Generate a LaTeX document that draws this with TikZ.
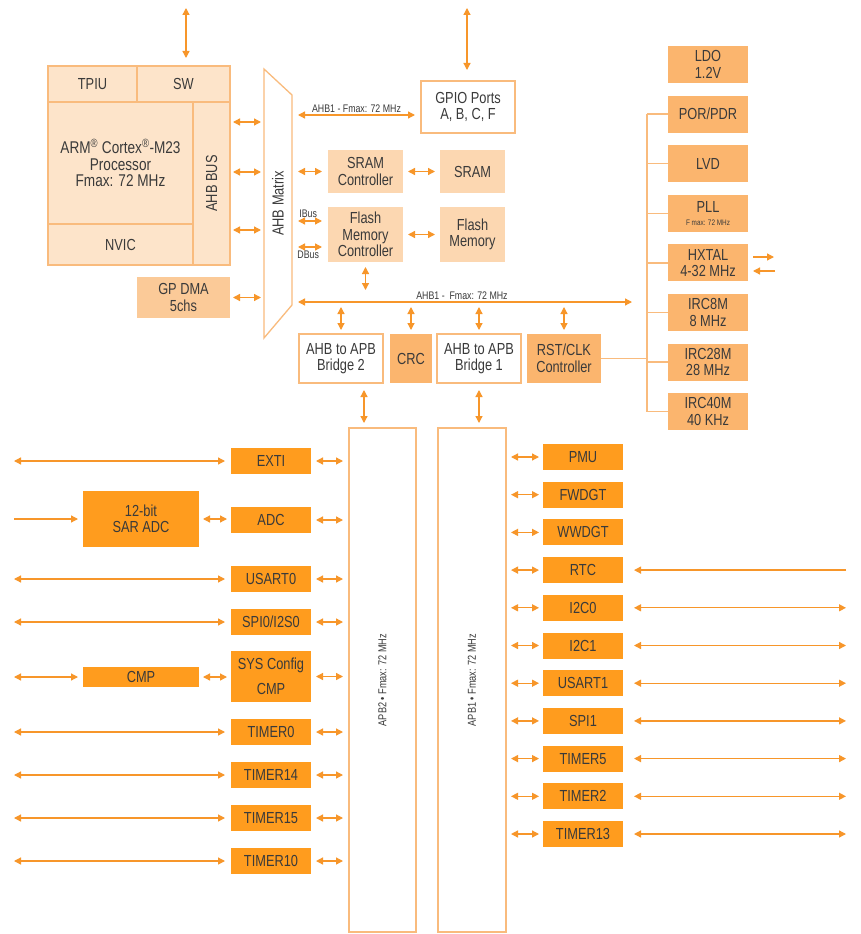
\documentclass[tikz,border=0pt]{standalone}
\usepackage{fontspec}
\setmainfont{Liberation Sans}[FakeStretch=0.8]
\usetikzlibrary{positioning,arrows.meta,calc}

\definecolor{arrowc}{HTML}{F7962A}
\definecolor{edgec}{HTML}{F9BB7D}
\definecolor{cpufill}{HTML}{FDE4CA}
\definecolor{memfill}{HTML}{FCD7B1}
\definecolor{dmafill}{HTML}{FBCA98}
\definecolor{clkfill}{HTML}{FBB56E}
\definecolor{perfill}{HTML}{FF9C1E}
\definecolor{textc}{HTML}{3A3A3A}

\begin{document}
\begin{tikzpicture}[x=1pt, y=-1pt,
    font=\fontsize{16}{16.5}\selectfont,
    box/.style={inner sep=0pt, outer sep=0pt, align=center, text=textc},
    cpu/.style={box, draw=edgec, fill=cpufill, line width=1.3pt},
    wbox/.style={box, draw=edgec, fill=white, line width=1.3pt},
    mem/.style={box, fill=memfill},
    clk/.style={box, fill=clkfill, minimum width=80pt, minimum height=37pt},
    periph/.style={box, fill=perfill, minimum width=80pt, minimum height=26pt},
    small/.style={font=\fontsize{11}{11.5}\selectfont, text=textc, inner sep=1pt},
    link/.style={draw=arrowc, line width=1.3pt},
    biarrow/.style={link, {Triangle[width=7pt,length=7pt]}-{Triangle[width=7pt,length=7pt]}},
    toarrow/.style={link, -{Triangle[width=7pt,length=7pt]}},
    tree/.style={draw=edgec, line width=1.3pt},
    gapped/.style={shorten <=#1, shorten >=#1}
]
\fill[white] (0,0) rectangle (860,934);
\useasboundingbox (0,0) rectangle (860,934);

% core block
\node[cpu, minimum width=89pt, minimum height=36pt] (tpiu) at (92.5,84) {TPIU};
\node[cpu, minimum width=93pt, minimum height=36pt] (sw) at (183.5,84) {SW};
\node[cpu, minimum width=145pt, minimum height=122pt, font=\fontsize{17}{16.5}\selectfont] (arm) at (120.5,163) {ARM\textsuperscript{®} Cortex\textsuperscript{®}-M23\\Processor\\Fmax: 72 MHz};
\node[cpu, minimum width=145pt, minimum height=41pt] (nvic) at (120.5,244.5) {NVIC};
\node[cpu, minimum width=37pt, minimum height=163pt] (ahbbus) at (211.5,183.5) {};
\node[box, rotate=90] (ahbbustxt) at (ahbbus) {AHB BUS};
\node[box, fill=dmafill, minimum width=93pt, minimum height=41pt] (gpdma) at (183.5,297.5) {GP DMA\\5chs};

% AHB matrix
\node[box, minimum width=28pt, minimum height=269pt] (ahbm) at (278,203.5) {};
\draw[draw=edgec, fill=white, line width=1.3pt] (ahbm.north west) -- ([yshift=-26pt]ahbm.north east) -- ([yshift=33pt]ahbm.south east) -- (ahbm.south west) -- cycle;
\node[box, rotate=90] (ahbmtxt) at (ahbm) {AHB Matrix};

% AHB side
\node[wbox, minimum width=94pt, minimum height=52pt] (gpio) at (468,107) {GPIO Ports\\A, B, C, F};
\node[mem, minimum width=75pt, minimum height=43pt] (sramc) at (365.5,171.5) {SRAM\\Controller};
\node[mem, minimum width=65pt, minimum height=43pt, right=37pt of sramc] (sram) {SRAM};
\node[mem, minimum width=75pt, minimum height=55pt] (flashc) at (365.5,234.5) {Flash\\Memory\\Controller};
\node[mem, minimum width=65pt, minimum height=55pt, right=37pt of flashc] (flash) {Flash\\Memory};
\node[wbox, minimum width=84pt, minimum height=49pt] (bridge2) at (341,358.5) {AHB to APB\\Bridge 2};
\node[box, fill=clkfill, minimum width=42pt, minimum height=49pt] (crc) at (411,358.5) {CRC};
\node[wbox, minimum width=84pt, minimum height=49pt] (bridge1) at (479,358.5) {AHB to APB\\Bridge 1};
\node[box, fill=clkfill, minimum width=74pt, minimum height=49pt] (rst) at (564,358.5) {RST/CLK\\Controller};

% clocks and power
\node[clk] (ldo) at (708,64.5) {LDO\\1.2V};
\node[clk, below=12.6pt of ldo] (por) {POR/PDR};
\node[clk, below=12.6pt of por] (lvd) {LVD};
\node[clk, below=12.6pt of lvd] (pll) {PLL\\[-3pt]{\fontsize{8}{8}\selectfont F max: 72 MHz}};
\node[clk, below=12.6pt of pll] (hxtal) {HXTAL\\4-32 MHz};
\node[clk, below=12.6pt of hxtal] (irc8) {IRC8M\\8 MHz};
\node[clk, below=12.6pt of irc8] (irc28) {IRC28M\\28 MHz};
\node[clk, below=12.6pt of irc28] (irc40) {IRC40M\\40 KHz};

% APB buses
\node[wbox, minimum width=67pt, minimum height=504pt] (apb2) at (382.5,680) {};
\node[box, rotate=90, font=\fontsize{11.5}{12}\selectfont] (apb2txt) at (apb2) {APB2 • Fmax: 72 MHz};
\node[wbox, minimum width=68pt, minimum height=504pt] (apb1) at (472,680) {};
\node[box, rotate=90, font=\fontsize{11.5}{12}\selectfont] (apb1txt) at (apb1) {APB1 • Fmax: 72 MHz};

% APB2 peripherals
\node[periph] (exti) at (271,461) {EXTI};
\node[periph] (adc) at (271,520) {ADC};
\node[periph] (usart0) at (271,579) {USART0};
\node[periph] (spi0) at (271,622) {SPI0/I2S0};
\node[periph, minimum height=51pt] (sys) at (271,676.5) {SYS Config\\[9pt]CMP};
\node[periph] (timer0) at (271,732) {TIMER0};
\node[periph] (timer14) at (271,775) {TIMER14};
\node[periph] (timer15) at (271,818) {TIMER15};
\node[periph] (timer10) at (271,861) {TIMER10};
\node[periph, minimum width=116pt, minimum height=56pt] (sar) at (141,519) {12-bit\\SAR ADC};
\node[periph, minimum width=116pt, minimum height=20pt] (cmp) at (141,677) {CMP};

% APB1 peripherals
\node[periph] (pmu) at (583,457) {PMU};
\node[periph, below=11.7pt of pmu] (fwdgt) {FWDGT};
\node[periph, below=11.7pt of fwdgt] (wwdgt) {WWDGT};
\node[periph, below=11.7pt of wwdgt] (rtc) {RTC};
\node[periph, below=11.7pt of rtc] (i2c0) {I2C0};
\node[periph, below=11.7pt of i2c0] (i2c1) {I2C1};
\node[periph, below=11.7pt of i2c1] (usart1) {USART1};
\node[periph, below=11.7pt of usart1] (spi1) {SPI1};
\node[periph, below=11.7pt of spi1] (timer5) {TIMER5};
\node[periph, below=11.7pt of timer5] (timer2) {TIMER2};
\node[periph, below=11.7pt of timer2] (timer13) {TIMER13};

% free ends
\coordinate (swtop) at (186,8);
\coordinate (gpiotop) at (467,8);
\coordinate (busend) at (632,302);
\coordinate (ctree) at (647,0);
\coordinate (hxout) at (774,257);
\coordinate (hxin) at (775,271);
\coordinate (lend) at (14,0);
\coordinate (rend) at (846,0);

% core side
\draw[biarrow, shorten >=8pt] (swtop) -- (swtop |- sw.north);
\draw[biarrow, gapped=3pt] (ahbbus.east |- 0,122) -- (ahbm.west |- 0,122);
\draw[biarrow, gapped=3pt] (ahbbus.east |- 0,172) -- (ahbm.west |- 0,172);
\draw[biarrow, gapped=3pt] (ahbbus.east |- 0,230) -- (ahbm.west |- 0,230);
\draw[biarrow, gapped=3pt] (gpdma) -- (gpdma -| ahbm.west);

% AHB side
\draw[biarrow, shorten >=11pt] (gpiotop) -- (gpiotop |- gpio.north);
\draw[biarrow, gapped=6pt] (ahbm.east |- 0,115) -- (gpio.west |- 0,115) node[small, midway, above=1pt] {AHB1 - Fmax: 72 MHz};
\draw[biarrow, gapped=6pt] (sramc -| ahbm.east) -- (sramc);
\draw[biarrow, gapped=5pt] (sramc) -- (sram);
\draw[biarrow, gapped=6pt] (ahbm.east |- 0,221) -- (flashc.west |- 0,221) node[small, pos=0.45, above=2pt] {IBus};
\draw[biarrow, gapped=6pt] (ahbm.east |- 0,247) -- (flashc.west |- 0,247) node[small, pos=0.45, below=2pt] {DBus};
\draw[biarrow, gapped=5pt] (flashc) -- (flash);
\draw[biarrow, shorten <=6pt] (ahbm.east |- busend) -- (busend) node[small, midway, above=1pt] {AHB1 -\ \ Fmax: 72 MHz};
\draw[biarrow, shorten <=5pt, shorten >=12pt] (flashc) -- (flashc |- busend);
\foreach \b in {bridge2,crc,bridge1,rst}
  \draw[biarrow, shorten <=5pt, shorten >=4pt] (\b |- busend) -- (\b);
\draw[biarrow, shorten <=7pt, shorten >=5pt] (bridge2.south -| 364,0) -- (apb2.north -| 364,0);
\draw[biarrow, shorten <=7pt, shorten >=5pt] (bridge1.south) -- (bridge1.south |- apb1.north);

% clock tree
\draw[tree] (por.west -| ctree) -- (irc40.west -| ctree);
\foreach \c in {por,lvd,pll,hxtal,irc8,irc28,irc40}
  \draw[tree] (\c.west -| ctree) -- (\c.west);
\draw[tree] (rst.east) -- (rst.east -| ctree);
\draw[toarrow, shorten <=5pt] (hxtal.east |- hxout) -- (hxout);
\draw[toarrow, shorten >=5pt] (hxin) -- (hxtal.east |- hxin);

% APB2 side
\foreach \p in {exti,usart0,spi0,timer0,timer14,timer15,timer10}
  \draw[biarrow, shorten >=6pt] (\p -| lend) -- (\p);
\draw[toarrow, shorten >=5pt] (sar -| lend) -- (sar);
\draw[biarrow, shorten >=5pt] (cmp -| lend) -- (cmp);
\draw[biarrow, gapped=4pt] (sar.east) -- (sar.east -| adc.west);
\draw[biarrow, gapped=4pt] (cmp) -- (cmp -| sys.west);
\foreach \p in {exti,adc,usart0,spi0,sys,timer0,timer14,timer15,timer10}
  \draw[biarrow, shorten <=5pt, shorten >=6pt] (\p) -- (\p -| apb2.west);

% APB1 side
\foreach \p in {pmu,fwdgt,wwdgt,rtc,i2c0,i2c1,usart1,spi1,timer5,timer2,timer13}
  \draw[biarrow, shorten <=4pt, shorten >=5pt] (\p) -- (\p -| apb1.east);
\foreach \p in {i2c0,i2c1,usart1,spi1,timer5,timer2,timer13}
  \draw[biarrow, shorten <=11pt] (\p) -- (\p -| rend);
\draw[toarrow, shorten >=11pt] (rtc -| rend) -- (rtc);
\end{tikzpicture}
\end{document}
